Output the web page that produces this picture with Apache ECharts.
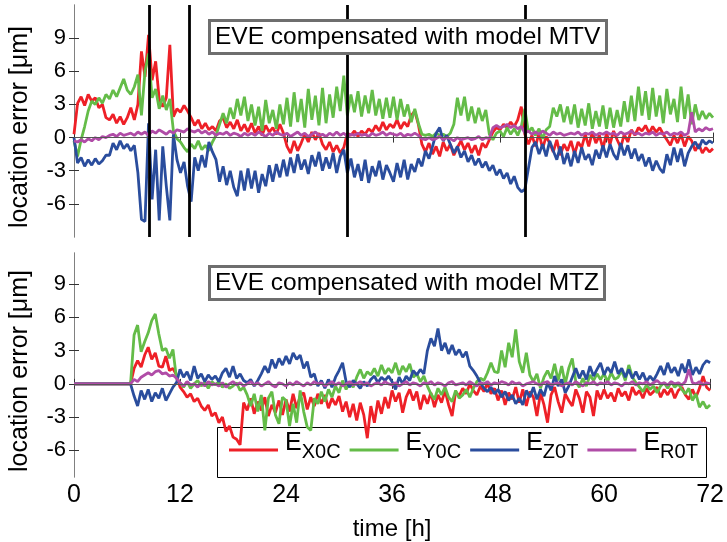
<!DOCTYPE html>
<html><head><meta charset="utf-8">
<script src="https://cdn.jsdelivr.net/npm/echarts@6/dist/echarts.min.js"></script>
<style>html,body{margin:0;padding:0;background:#fff}#c{width:727px;height:542px}</style>
</head><body><div id="c"></div>
<script>
// sampling grid: every 0.4 h from 0 to 72 h (181 samples)
const hours = Array.from({length: 181}, (_, i) => Math.round(i * 4) / 10);
const xTicks = [0, 12, 24, 36, 48, 60, 72];
const yTicks = [-6, -3, 0, 3, 6, 9];
const seriesNames = ['EX0C', 'EY0C', 'EZ0T', 'ER0T'];
const eventHours = [8.5, 13, 30.8, 50.9];
const titleTop = 'EVE compensated with model MTV';
const titleBottom = 'EVE compensated with model MTZ';

// ---- top panel (model MTV) ----
const mtvX = [
 0.3, 3.1, 3.7, 2.9, 3.9, 3.3, 3.6, 2.7, 3.0, 1.8,
 1.6, 2.1, 1.3, 1.9, 1.2, 1.8, 2.7, 1.6, 3.0, 7.8,
 5.5, 9.3, 5.2, 6.9, 3.5, 2.8, 3.6, 8.4, 1.9, 2.6,
 2.3, 2.9, 2.4, 1.8, 1.1, 1.6, 0.8, 1.3, 0.7, 1.0,
 0.6, 1.5, 1.8, 0.9, 1.4, 0.8, 1.6, 0.6, 1.2, 0.5,
 1.3, 0.4, 1.0, 0.2, 1.1, 0.5, 0.9, 0.3, 1.2, 0.4,
 -0.8, -1.4, -0.3, -1.2, -0.5, 0.3, -0.4, 0.5, -0.2, 0.4,
 -0.6, -1.1, -0.4, -1.3, -0.7, -1.4, -0.9, 0.4, 0.2, 0.6,
 0.1, 0.6, 0.3, 0.8, 0.5, 1.1, 0.6, 1.4, 0.7, 1.2,
 0.9, 1.6, 0.8, 1.4, 1.0, 2.0, 2.4, 1.2, -0.6, -1.3,
 -0.5, -1.5, -0.8, -1.7, -0.4, -1.2, -0.6, -1.6, -0.9, -0.3,
 -1.1, -0.5, -1.4, -0.7, -1.6, -0.5, -0.9, -0.2, 0.5, 0.9,
 0.7, 1.2, 0.9, 1.4, 1.0, 1.6, 2.8, 0.3, -0.6, 0.2,
 -0.8, 0.4, -1.0, 0.1, -0.5, -1.3, -0.2, -1.6, -0.6, -1.2,
 -0.3, -1.5, -0.4, -0.9, 0.3, -0.8, 0.5, -0.5, 0.2, -1.0,
 0.4, -0.6, 0.6, -0.2, -0.9, 0.3, -0.4, 0.7, 0.2, 0.9,
 0.6, 1.1, 0.4, 1.0, 0.5, 0.9, 0.3, -0.2, -0.7, 0.2,
 -0.5, 0.3, -0.8, 0.1, -0.3, -1.2, -0.6, -1.4, -0.9, -1.3,
 -1.0];
const mtvY = [
 -0.3, -1.7, -0.2, 1.0, 2.4, 3.3, 3.0, 3.6, 3.1, 3.9,
 3.5, 4.3, 3.7, 4.5, 5.3, 4.3, 3.9, 4.6, 5.7, 2.0,
 6.0, 7.6, 3.6, 4.4, 2.6, 3.8, 2.5, 3.5, 0.6, -0.1,
 -0.4, -0.9, -1.3, -0.6, -1.0, -0.3, -1.1, -0.7, -1.2, -0.4,
 0.2, 1.2, 2.2, 1.3, 2.7, 1.7, 3.5, 2.0, 3.7, 1.5,
 3.0, 1.1, 2.8, 0.6, 3.4, 1.3, 2.5, 0.8, 3.0, 1.2,
 3.6, 1.0, 4.1, 1.4, 3.5, 0.9, 4.4, 1.6, 3.8, 1.1,
 4.5, 1.3, 3.9, 1.8, 4.6, 2.4, 5.6, 2.0, 3.9, 2.3,
 4.2, 1.9, 3.8, 2.2, 4.3, 2.0, 3.5, 1.7, 3.6, 1.8,
 3.7, 1.6, 3.5, 1.9, 3.0, 1.4, 2.6, 1.3, 0.3, 0.2,
 0.3, 0.1, 0.4, 0.2, 0.3, 0.1, 0.4, 1.2, 3.6, 2.0,
 3.7, 1.5, 2.8, 1.3, 2.7, 1.5, 2.5, 0.3, -0.2, 0.4,
 0.6, 0.1, 0.9, 0.3, 0.8, 0.2, 1.0, 2.6, 0.5, 0.9,
 0.2, 0.8, -0.1, 0.7, 1.0, 2.7, 1.9, 3.0, 1.4, 2.8,
 1.2, 3.0, 0.9, 2.6, 1.1, 3.1, 0.8, 2.4, 1.0, 2.9,
 0.8, 2.7, 0.9, 2.5, 1.0, 3.3, 1.4, 3.8, 1.5, 4.6,
 2.0, 4.2, 1.6, 4.5, 1.9, 3.8, 1.3, 4.4, 2.1, 3.5,
 1.4, 4.6, 1.7, 3.9, 1.2, 3.0, 1.6, 2.4, 1.7, 2.2,
 1.8];
const mtvZ = [
 0.0, -2.3, -1.8, -2.6, -2.0, -2.5, -1.9, -2.4, -2.1, -1.6,
 -1.6, -0.5, -1.1, -0.3, -1.0, -0.6, -1.2, -0.7, -3.2, -7.4,
 -7.6, 1.3, -5.6, -1.1, -7.5, -0.8, -4.4, -7.5, 0.3, -2.0,
 -3.2, -2.2, -4.4, -5.8, -1.8, -3.0, -1.6, -2.7, -0.4, -1.3,
 -2.0, -4.0, -2.6, -4.3, -3.0, -4.5, -5.3, -3.0, -4.8, -2.8,
 -4.6, -3.0, -5.0, -3.3, -4.4, -2.5, -4.0, -2.4, -3.6, -2.0,
 -3.5, -1.8, -3.2, -1.5, -2.9, -2.0, -3.3, -1.6, -2.6, -1.3,
 -3.0, -1.8, -2.8, -1.4, -3.2, -1.7, -1.1, -3.2, -1.9, -3.6,
 -2.4, -3.9, -2.0, -4.1, -2.6, -3.5, -2.1, -3.8, -2.5, -3.2,
 -4.0, -2.3, -3.6, -2.0, -3.8, -2.4, -3.1, -1.9, -2.6, -1.2,
 -1.9, -0.8, 0.4, 0.9, -0.3, 0.2, -0.6, -1.4, -0.8, -1.8,
 -1.2, -2.2, -1.6, -2.5, -1.9, -2.7, -2.2, -3.0, -2.5, -3.4,
 -2.9, -3.7, -3.2, -4.2, -3.5, -4.5, -4.9, -4.7, -2.8, -0.9,
 -0.4, -1.5, -0.6, -1.7, -0.3, -1.2, -2.0, -0.8, -2.4, -1.4,
 -2.6, -1.2, -2.3, -0.9, -2.0, -1.5, -2.5, -1.1, -1.9, -0.7,
 -1.8, -0.6, -1.5, -2.0, -0.5, -1.6, -0.7, -1.9, -1.0, -2.1,
 -1.5, -2.6, -1.8, -3.0, -2.1, -2.8, -3.2, -1.5, -2.5, -0.9,
 -2.2, -1.0, -2.6, -1.4, -0.8, -0.4, -1.0, -0.2, -0.6, -0.3,
 -0.5];
const mtvR = [
 -0.3, -0.4, -0.2, -0.4, -0.1, -0.3, 0.0, -0.2, 0.1, 0.0,
 0.2, 0.3, 0.1, 0.4, 0.2, 0.3, 0.4, 0.2, 0.5, 0.3,
 0.5, 0.2, 0.6, 0.4, 0.7, 0.5, 0.3, 0.6, 0.4, 0.7,
 0.6, 0.5, 0.8, 0.6, 0.5, 0.7, 0.4, 0.6, 0.3, 0.5,
 0.2, 0.4, 0.3, 0.5, 0.2, 0.4, 0.3, 0.1, 0.4, 0.2,
 0.4, 0.2, 0.5, 0.3, 0.1, 0.4, 0.2, 0.5, 0.3, 0.2,
 0.4, 0.1, 0.3, 0.5, 0.2, 0.4, 0.1, 0.3, 0.5, 0.2,
 0.3, 0.1, 0.4, 0.2, 0.5, 0.2, 0.4, 0.1, 0.3, 0.2,
 0.4, 0.2, 0.3, 0.1, 0.4, 0.2, 0.3, 0.5, 0.2, 0.4,
 0.3, 0.2, 0.4, 0.1, 0.3, 0.2, 0.4, 0.2, -0.1, -0.2,
 0.0, -0.2, -0.1, 0.1, -0.2, 0.0, -0.1, -0.3, 0.0, -0.2,
 -0.1, 0.0, -0.2, -0.1, 0.1, -0.2, 0.0, -0.1, 0.9, 1.1,
 0.9, 1.0, 1.2, 0.9, 1.1, 0.8, 1.0, 0.4, 0.6, 0.3,
 0.5, 0.3, 0.6, 0.4, 0.2, 0.5, 0.3, 0.4, 0.2, 0.3,
 0.4, 0.3, 0.5, 0.2, 0.4, 0.3, 0.5, 0.2, 0.4, 0.3,
 0.5, 0.3, 0.4, 0.2, 0.5, 0.3, 0.4, 0.6, 0.3, 0.4,
 0.2, 0.4, 0.3, 0.5, 0.2, 0.4, 0.3, 0.5, 0.2, 0.4,
 0.3, 0.5, 0.2, 0.4, 2.3, 0.5, 0.8, 0.6, 0.9, 0.7,
 0.8];

// ---- bottom panel (model MTZ) ----
const mtzX = [
 0, 0, 0, 0, 0, 0, 0, 0, 0, 0,
 0, 0, 0, 0, 0, 0, 0, 1.4, 2.1, 1.5,
 2.6, 3.3, 2.2, 2.8, 1.6, 1.5, 2.5, 1.2, 1.4, 0.8,
 -0.3, -0.7, -1.2, -0.9, -1.6, -1.3, -2.0, -2.4, -1.9, -2.9,
 -2.6, -3.5, -3.0, -4.3, -3.8, -4.8, -5.0, -5.5, -1.7, -2.4,
 -1.3, -2.7, -1.6, -2.4, -1.2, -2.9, -1.9, -2.6, -1.5, -2.8,
 -1.4, -2.5, -0.9, -2.2, -1.1, -0.8, -2.3, -1.2, -2.0, -0.9,
 -1.8, -1.0, -2.2, -1.3, -1.9, -1.1, -2.5, -1.6, -3.0, -1.8,
 -3.3, -1.7, -2.8, -4.9, -2.0, -3.5, -1.5, -2.7, -1.2, -2.2,
 -0.6, -1.6, -0.8, -2.6, -1.2, -0.5, -1.5, -0.7, -2.3, -1.0,
 -1.8, -0.8, -2.1, -1.0, -1.7, -0.6, -1.9, -2.9, -0.7, -1.1,
 -0.4, -0.9, 0.0, -0.6, -1.0, -0.2, -0.7, 0.1, -0.9, -0.4,
 -1.5, -0.6, -1.9, -0.8, -1.4, -0.3, -1.7, -0.5, -2.0, -0.7,
 -1.2, -2.9, -0.8, -1.9, -3.5, -1.0, -0.3, -1.6, -2.6, -0.9,
 -1.5, -2.0, -0.5, -1.3, -2.6, -0.7, -1.2, -2.9, -0.6, -1.4,
 -0.5, -1.3, -0.8, -1.6, -0.4, -1.1, -0.7, -1.5, -0.3, -1.0,
 -0.6, -1.3, -0.4, -1.0, -0.7, -0.3, -1.2, -0.5, -1.0, -0.4,
 -1.3, -0.6, -0.3, -1.0, -1.4, -0.5, -1.2, -0.4, 0.7, -0.3,
 -0.6];
const mtzY = [
 0, 0, 0, 0, 0, 0, 0, 0, 0, 0,
 0, 0, 0, 0, 0, 0, 0, 4.4, 5.3, 2.9,
 3.8, 4.6, 5.7, 6.3, 4.5, 3.0, 3.2, 2.3, 3.1, 0.5,
 0.1, -0.3, 0.2, -0.4, 0.0, 0.3, -0.2, 0.1, -0.4, 0.2,
 -0.1, 0.2, -0.3, 0.0, -0.4, -0.2, 0.1, -0.6, -0.3, -1.0,
 -2.0, -0.9, -2.5, -1.0, -4.2, -1.3, -0.7, -2.8, -3.6, -1.2,
 -1.5, -3.8, -1.8, -3.5, -0.6, -2.5, -3.9, -4.2, -1.3, -1.8,
 -0.7, -1.6, -0.5, -1.2, -0.2, -0.8, 0.3, -0.5, 0.2, -0.3,
 0.6, 1.3, 0.5, 1.1, 0.8, 1.4, 0.7, 1.7, 0.9, 1.4,
 1.0, 1.9, 0.8, 1.6, 1.1, 1.8, 0.6, 0.9, 0.2, 0.7,
 -0.2, -0.9, -1.4, -0.4, -1.0, -0.3, -1.2, -1.6, -0.6, -1.3,
 -1.0, -0.5, -1.2, -0.4, 0.2, 0.5, 0.3, 1.0, 1.9, 1.1,
 1.0, 3.0, 1.5, 3.7, 2.4, 4.9, 2.0, 1.0, 2.8, 0.8,
 0.2, 0.9, -0.4, 0.6, 1.2, 0.5, 1.8, 0.3, 1.6, 0.0,
 1.4, 2.3, 0.2, -0.3, 0.5, -0.2, 0.8, 0.3, 0.9, 0.4,
 0.9, 0.2, 1.0, 0.4, 0.6, 1.2, 0.3, 1.7, 0.6, 0.1,
 -0.3, -0.7, -0.1, -0.5, -0.2, -0.8, -0.2, 0.1, -0.4, 0.2,
 -0.3, 0.0, -0.5, -0.9, -0.4, -1.5, -0.9, -2.1, -1.6, -2.2,
 -1.9];
const mtzZ = [
 0, 0, 0, 0, 0, 0, 0, 0, 0, 0,
 0, 0, 0, 0, 0, 0, 0, -1.1, -2.0, -0.6,
 -1.4, -0.5, -1.6, -0.8, -1.3, -0.4, -1.5, -0.9, -0.3, 0.1,
 1.3, 0.6, 1.1, 0.3, 1.6, 0.5, 0.9, 0.2, 0.8, 0.4,
 0.7, 0.2, 1.0, 1.4, 0.6, 1.6, 0.5, 0.9, 0.3, 0.1,
 0.4, -0.2, 0.3, 0.9, 1.6, 1.0, 2.2, 1.4, 2.3, 1.7,
 2.5, 1.8, 2.8, 2.2, 2.6, 1.4, 2.0, 0.6, 0.9, -0.2,
 0.3, -0.4, 0.4, -0.3, 0.6, 1.2, 1.9, 0.2, -0.3, 0.3,
 0.0, -0.4, 0.2, -0.2, 0.4, 0.7, 0.1, 0.6, 0.3, 0.7,
 0.2, -0.5, 0.6, 0.0, 0.7, 0.3, 1.2, 0.8, 1.3, 0.9,
 3.0, 4.1, 3.4, 5.0, 3.0, 3.7, 2.7, 3.5, 2.6, 3.1,
 2.4, 2.9, 1.6, 1.2, 0.7, 0.1, -0.4, -0.7, -0.3, -0.9,
 -0.5, -1.2, -0.7, -1.5, -1.0, -1.8, -1.3, -1.9, -0.6, -1.2,
 -0.3, -1.4, -0.5, -1.1, 0.1, -0.6, 0.7, -0.2, 0.4, -0.8,
 -0.2, 0.6, 1.4, 0.5, 1.2, 0.4, 1.6, 0.7, 1.3, 1.9,
 0.8, 1.5, 1.0, 2.0, 0.9, 1.4, 0.6, 1.3, 0.5, 1.1,
 0.4, 1.0, 0.2, 0.7, 0.3, 0.9, 1.6, 0.8, 1.9, 1.0,
 1.5, 0.7, 1.8, 1.0, 2.2, 0.8, 1.5, 0.9, 1.7, 2.1,
 1.9];
const mtzR = [
 0, 0, 0, 0, 0, 0, 0, 0, 0, 0,
 0, 0, 0, 0, 0, 0, 0, 0.4, 0.2, 0.6,
 0.8, 1.0, 0.8, 1.1, 1.2, 0.9, 1.0, 0.7, 0.8, 0.5,
 0.1, -0.2, 0.2, -0.1, 0.0, -0.3, 0.1, -0.2, 0.2, -0.1,
 0.0, -0.2, 0.1, -0.3, 0.0, 0.2, -0.1, 0.1, -0.2, 0.0,
 0.2, -0.1, 0.1, -0.2, 0.0, 0.2, -0.1, -0.3, 0.1, 0.0,
 -0.2, 0.1, -0.1, 0.2, 0.0, -0.2, 0.1, -0.1, 0.2, 0.0,
 0.1, -0.2, 0.0, 0.2, -0.1, 0.1, -0.2, 0.0, 0.2, -0.1,
 0.0, 0.2, -0.1, 0.1, -0.2, 0.0, 0.1, -0.1, 0.2, 0.0,
 -0.1, 0.1, -0.2, 0.0, 0.2, -0.1, 0.1, 0.0, -0.2, 0.1,
 0.0, 0.2, -0.1, 0.1, 0.0, -0.2, 0.1, 0.2, -0.1, 0.0,
 0.1, -0.1, 0.2, 0.0, -0.2, 0.1, 0.0, 0.2, -0.1, 0.1,
 0.0, 0.2, 0.1, -0.1, 0.2, 0.0, 0.1, -0.2, 0.0, 0.1,
 0.2, 0.0, -0.1, 0.1, 0.2, -0.1, 0.0, 0.1, -0.2, 0.0,
 0.1, -0.1, 0.2, 0.0, -0.2, 0.1, 0.0, 0.2, -0.1, 0.1,
 0.0, 0.2, -0.1, 0.1, 0.0, -0.2, 0.1, 0.0, 0.2, -0.1,
 0.1, 0.0, 0.2, -0.1, 0.1, 0.3, 0.0, 0.1, -0.1, 0.2,
 0.0, 0.1, -0.1, 0.2, 1.3, 0.1, 0.0, 0.2, -0.1, 0.1,
 0.0];

const colors = ['#ee2027', '#64bc48', '#2a4d9d', '#b04ca7'];
const FONT = 'Liberation Sans, Arial, sans-serif';
const pair = arr => hours.map((h, i) => [h, arr[i]]);

const frame = {show: true, lineStyle: {color: '#808080', width: 1}};
function xAx(grid, pos, labels) {
  return {
    type: 'value', gridIndex: grid, position: pos, min: 0, max: 72, interval: 12,
    axisLine: frame, splitLine: {show: false},
    axisTick: {show: true, inside: true, length: 5, lineStyle: {color: '#333'}},
    axisLabel: {show: labels, fontSize: 25, color: '#000', fontFamily: FONT, margin: 6,
      customValues: xTicks},
    name: labels ? 'time [h]' : '', nameLocation: 'middle', nameGap: 40,
    nameTextStyle: {fontSize: 24, color: '#000', fontFamily: FONT}
  };
}
function yAx(grid, pos, min, max, labels) {
  return {
    type: 'value', gridIndex: grid, position: pos, min: min, max: max,
    axisLine: frame, splitLine: {show: false},
    axisTick: {show: true, inside: true, length: 5, lineStyle: {color: '#333'}, customValues: yTicks},
    axisLabel: {show: labels, fontSize: 22, color: '#000', fontFamily: FONT, margin: 8,
      customValues: yTicks},
    name: labels ? 'location error [μm]' : '', nameLocation: 'middle', nameRotate: 90, nameGap: 41,
    nameTextStyle: {fontSize: 25, color: '#000', fontFamily: FONT, padding: [0, 12, 0, 0]}
  };
}

function lineSeries(name, data, xi, yi, color, extra) {
  return Object.assign({
    type: 'line', name: name, data: data, xAxisIndex: xi, yAxisIndex: yi,
    showSymbol: false, symbol: 'none', animation: false, silent: true,
    lineStyle: {color: color, width: 2.8}, itemStyle: {color: color}
  }, extra || {});
}

const zeroLine = {yAxis: 0, lineStyle: {color: '#555', width: 1, type: 'solid'}};
const topMarks = {
  silent: true, symbol: ['none', 'none'], animation: false, label: {show: false},
  data: [zeroLine].concat(eventHours.map(h => ({xAxis: h, lineStyle: {color: '#000', width: 2.8, type: 'solid'}})))
};
const botMarks = {
  silent: true, symbol: ['none', 'none'], animation: false, label: {show: false},
  data: [zeroLine]
};

const topData = [mtvX, mtvY, mtvZ, mtvR];
const botData = [mtzX, mtzY, mtzZ, mtzR];
const series = [];
topData.forEach((d, k) => series.push(lineSeries(seriesNames[k], pair(d), 0, 0, colors[k],
  k === 3 ? {markLine: topMarks} : null)));
botData.forEach((d, k) => series.push(lineSeries(seriesNames[k], pair(d), 2, 2, colors[k],
  k === 3 ? {markLine: botMarks} : null)));

const titleStyle = {fontSize: 24.5, fontWeight: 'normal', color: '#000', fontFamily: FONT, lineHeight: 26};
const chart = echarts.init(document.getElementById('c'), null, {renderer: 'canvas'});
chart.setOption({
  animation: false,
  backgroundColor: '#fff',
  grid: [
    {left: 71, right: 14, top: 5, height: 232},
    {left: 71, right: 14, top: 253, height: 224}
  ],
  xAxis: [xAx(0, 'bottom', false), xAx(0, 'top', false), xAx(1, 'bottom', true), xAx(1, 'top', false)],
  yAxis: [yAx(0, 'left', -9, 12, true), yAx(0, 'right', -9, 12, false),
          yAx(1, 'left', -8.4, 11.8, true), yAx(1, 'right', -8.4, 11.8, false)],
  title: [
    {text: titleTop, left: 209, top: 20, padding: [4, 6], borderColor: '#6e6e6e', borderWidth: 3,
     backgroundColor: '#fff', textStyle: titleStyle},
    {text: titleBottom, left: 209, top: 266, padding: [4, 6], borderColor: '#6e6e6e', borderWidth: 3,
     backgroundColor: '#fff', textStyle: titleStyle}
  ],
  legend: {
    data: seriesNames, left: 229, top: 431, padding: 0, itemGap: 9, itemWidth: 49, itemHeight: 3,
    icon: 'rect', selectedMode: false,
    formatter: n => '{e|E}{s|' + n.slice(1) + '}',
    textStyle: {rich: {
      e: {fontSize: 25, color: '#000', fontFamily: FONT, padding: [0, 0, 13, 2]},
      s: {fontSize: 20, color: '#000', fontFamily: FONT, padding: [4, 0, 0, 0]}
    }}
  },
  graphic: [{type: 'rect', silent: true, z: 1,
    shape: {x: 217.5, y: 427.5, width: 489, height: 50},
    style: {fill: 'none', stroke: '#000', lineWidth: 1}}],
  series: series
});
</script></body></html>
